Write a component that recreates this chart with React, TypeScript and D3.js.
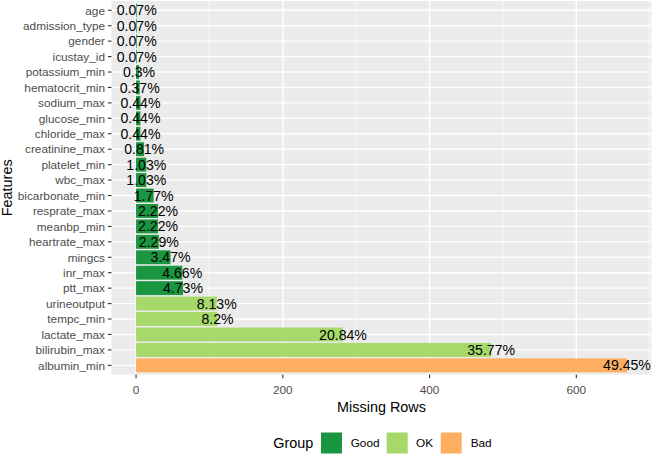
import * as d3 from "d3";

const features = [
  "age", "admission_type", "gender", "icustay_id", "potassium_min", "hematocrit_min",
  "sodium_max", "glucose_min", "chloride_max", "creatinine_max", "platelet_min", "wbc_max",
  "bicarbonate_min", "resprate_max", "meanbp_min", "heartrate_max", "mingcs", "inr_max",
  "ptt_max", "urineoutput", "tempc_min", "lactate_max", "bilirubin_max", "albumin_min",
];
const missingRows = [1, 1, 1, 1, 4, 5, 6, 6, 6, 11, 14, 14, 24, 30, 30, 31, 47, 63, 64, 110, 111, 282, 484, 669];
const pctLabels = [
  "0.07%", "0.07%", "0.07%", "0.07%", "0.3%", "0.37%", "0.44%", "0.44%", "0.44%", "0.81%",
  "1.03%", "1.03%", "1.77%", "2.22%", "2.22%", "2.29%", "3.47%", "4.66%", "4.73%", "8.13%",
  "8.2%", "20.84%", "35.77%", "49.45%",
];
const groups = [
  "Good", "Good", "Good", "Good", "Good", "Good", "Good", "Good", "Good", "Good", "Good", "Good",
  "Good", "Good", "Good", "Good", "Good", "Good", "Good", "OK", "OK", "OK", "OK", "Bad",
];
const groupNames = ["Good", "OK", "Bad"];
const groupColors = ["#1A9641", "#A6D96A", "#FDAE61"];
const xTicks = [0, 200, 400, 600];
const xMinor = [100, 300, 500, 700];

const W = 652;
const H = 454;
const font = "'Liberation Sans', Arial, Helvetica, sans-serif";

export default function App() {
  const panel = { left: 111.5, right: 651.5, top: 1, bottom: 374.6 };
  const maxV = d3.max(missingRows) || 1;
  const x = d3
    .scaleLinear()
    .domain([-0.05 * maxV, maxV * 1.05])
    .range([panel.left, panel.right]);
  const y = d3
    .scaleBand<string>()
    .domain(features)
    .range([panel.top, panel.bottom])
    .paddingInner(0.1)
    .paddingOuter(0.15);
  const color = d3.scaleOrdinal<string, string>().domain(groupNames).range(groupColors);
  const bw = y.bandwidth();
  const cy = (f: string) => (y(f) || 0) + bw / 2;

  // legend layout (ggplot bottom legend)
  const legendY = 432.5;
  const keySize = 21;
  const legendItems = [
    { key: 321, text: 350.7 },
    { key: 386.7, text: 416 },
    { key: 440.7, text: 470.7 },
  ];

  return (
    <svg
      width={W}
      height={H}
      style={{ position: "absolute", left: 0, top: 0, fontFamily: font }}
    >
      <rect x={0} y={0} width={W} height={H} fill="#fff" />
      {/* panel */}
      <rect
        x={panel.left}
        y={panel.top}
        width={panel.right - panel.left}
        height={panel.bottom - panel.top}
        fill="#EBEBEB"
      />
      {xMinor.map((t) => (
        <line key={"mi" + t} x1={x(t)} x2={x(t)} y1={panel.top} y2={panel.bottom} stroke="#fff" strokeWidth={0.7} />
      ))}
      {xTicks.map((t) => (
        <line key={"ma" + t} x1={x(t)} x2={x(t)} y1={panel.top} y2={panel.bottom} stroke="#fff" strokeWidth={1.4} />
      ))}
      {features.map((f) => (
        <line key={"hg" + f} x1={panel.left} x2={panel.right} y1={cy(f)} y2={cy(f)} stroke="#fff" strokeWidth={1.4} />
      ))}

      {/* bars */}
      {features.map((f, i) => (
        <rect
          key={"b" + f}
          x={x(0)}
          y={y(f)}
          width={x(missingRows[i]) - x(0)}
          height={bw}
          fill={color(groups[i])}
        />
      ))}
      {features.map((f, i) => (
        <text
          key={"l" + f}
          x={x(missingRows[i])}
          y={cy(f)}
          dy="0.36em"
          textAnchor="middle"
          fontSize={14.1}
          fill="#000"
        >
          {pctLabels[i]}
        </text>
      ))}

      {/* y axis */}
      {features.map((f) => (
        <g key={"ya" + f}>
          <line x1={panel.left - 3.6} x2={panel.left} y1={cy(f)} y2={cy(f)} stroke="#333" strokeWidth={1.1} />
          <text x={panel.left - 6.5} y={cy(f)} dy="0.36em" textAnchor="end" fontSize={11.8} fill="#4D4D4D">
            {f}
          </text>
        </g>
      ))}

      {/* x axis */}
      {xTicks.map((t) => (
        <g key={"xa" + t}>
          <line x1={x(t)} x2={x(t)} y1={panel.bottom} y2={panel.bottom + 3.6} stroke="#333" strokeWidth={1.1} />
          <text x={x(t)} y={394} textAnchor="middle" fontSize={11.8} fill="#4D4D4D">
            {t}
          </text>
        </g>
      ))}

      {/* titles */}
      <text x={(panel.left + panel.right) / 2} y={411.7} textAnchor="middle" fontSize={14.4} fill="#000">
        Missing Rows
      </text>
      <text
        transform={`translate(12,${(panel.top + panel.bottom) / 2}) rotate(-90)`}
        textAnchor="middle"
        fontSize={14.4}
        fill="#000"
      >
        Features
      </text>

      {/* legend */}
      <text x={273.3} y={legendY + keySize / 2} dy="0.36em" fontSize={14.4} fill="#000">
        Group
      </text>
      {groupNames.map((g, i) => (
        <g key={"lg" + g}>
          <rect x={legendItems[i].key} y={legendY} width={keySize} height={keySize} fill={color(g)} />
          <text x={legendItems[i].text} y={legendY + keySize / 2} dy="0.36em" fontSize={11.8} fill="#000">
            {g}
          </text>
        </g>
      ))}
    </svg>
  );
}
